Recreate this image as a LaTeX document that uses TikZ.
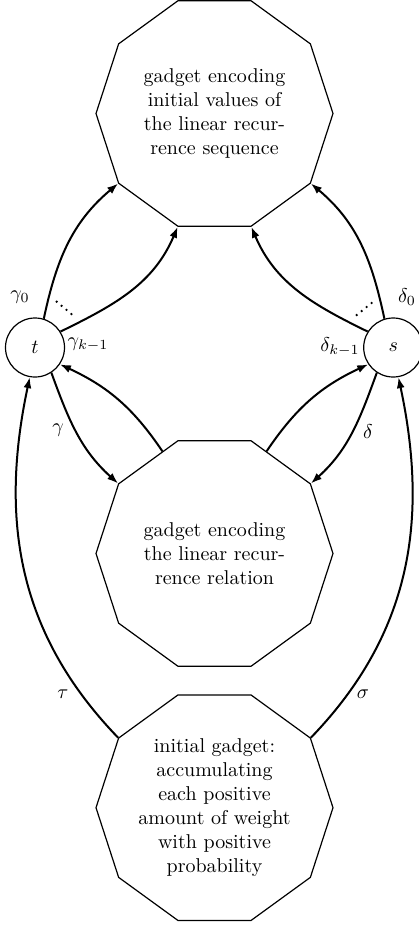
\documentclass[tikz,border=0pt]{standalone}
\usetikzlibrary{shapes.geometric,arrows.meta}
\begin{document}
\begin{tikzpicture}[x=0.5pt,y=0.5pt,
  deca/.style={regular polygon, regular polygon sides=10, draw, line width=0.6pt,
    minimum size=118.5pt, inner sep=0pt, align=center},
  st/.style={circle, draw, line width=0.6pt, minimum size=29.5pt, inner sep=0pt},
  arr/.style={line width=1pt, -{Latex[length=5.5pt,width=4pt]}},
  dots/.style={line width=1.3pt, line cap=round, dash pattern=on 0pt off 3.2pt},
  lbl/.style={inner sep=1pt}]
\useasboundingbox (0,0) rectangle (418,-927);
\node[deca] (top) at (214.5,-113.5) {gadget encoding\\initial values of\\the linear recur-\\rence sequence};
\node[deca] (mid) at (214.5,-553.5) {gadget encoding\\the linear recur-\\rence relation};
\node[deca] (bot) at (214.5,-807.7) {initial gadget:\\accumulating\\each positive\\amount of weight\\with positive\\probability};
\node[st] (t) at (35,-347.5) {$t$};
\node[st] (s) at (393.2,-347.5) {$s$};
\draw[arr] (t.73) to[out=78,in=-140] (top.216);
\draw[arr] (t.32) to[out=26,in=-113] (top.252);
\draw[arr] (s.107) to[out=102,in=-40] (top.324);
\draw[arr] (s.148) to[out=154,in=-67] (top.288);
\draw[arr] (mid.117) to[out=124,in=-25] (t.-34);
\draw[arr] (t.-57) to[out=-70,in=138] (mid.144);
\draw[arr] (mid.63) to[out=56,in=205] (s.214);
\draw[arr] (s.237) to[out=250,in=42] (mid.36);
\draw[arr] (bot.144) to[out=134,in=-102] (t.-100);
\draw[arr] (bot.36) to[out=46,in=-78] (s.280);
\coordinate (ga) at (56.7,-301.7);
\coordinate (gb) at (71.7,-314.3);
\coordinate (da) at (356.7,-315);
\coordinate (db) at (373.3,-301.7);
\draw[dots] (ga) -- (gb);
\draw[dots] (da) -- (db);
\node[lbl] (g0) at (20,-297) {$\gamma_0$};
\node[lbl] (gk) at (88,-345) {$\gamma_{k-1}$};
\node[lbl] (d0) at (407,-297) {$\delta_0$};
\node[lbl] (dk) at (340,-347) {$\delta_{k-1}$};
\node[lbl] (g) at (58,-430) {$\gamma$};
\node[lbl] (d) at (368,-432) {$\delta$};
\node[lbl] (ta) at (63,-694) {$\tau$};
\node[lbl] (si) at (363,-694) {$\sigma$};
\end{tikzpicture}
\end{document}
